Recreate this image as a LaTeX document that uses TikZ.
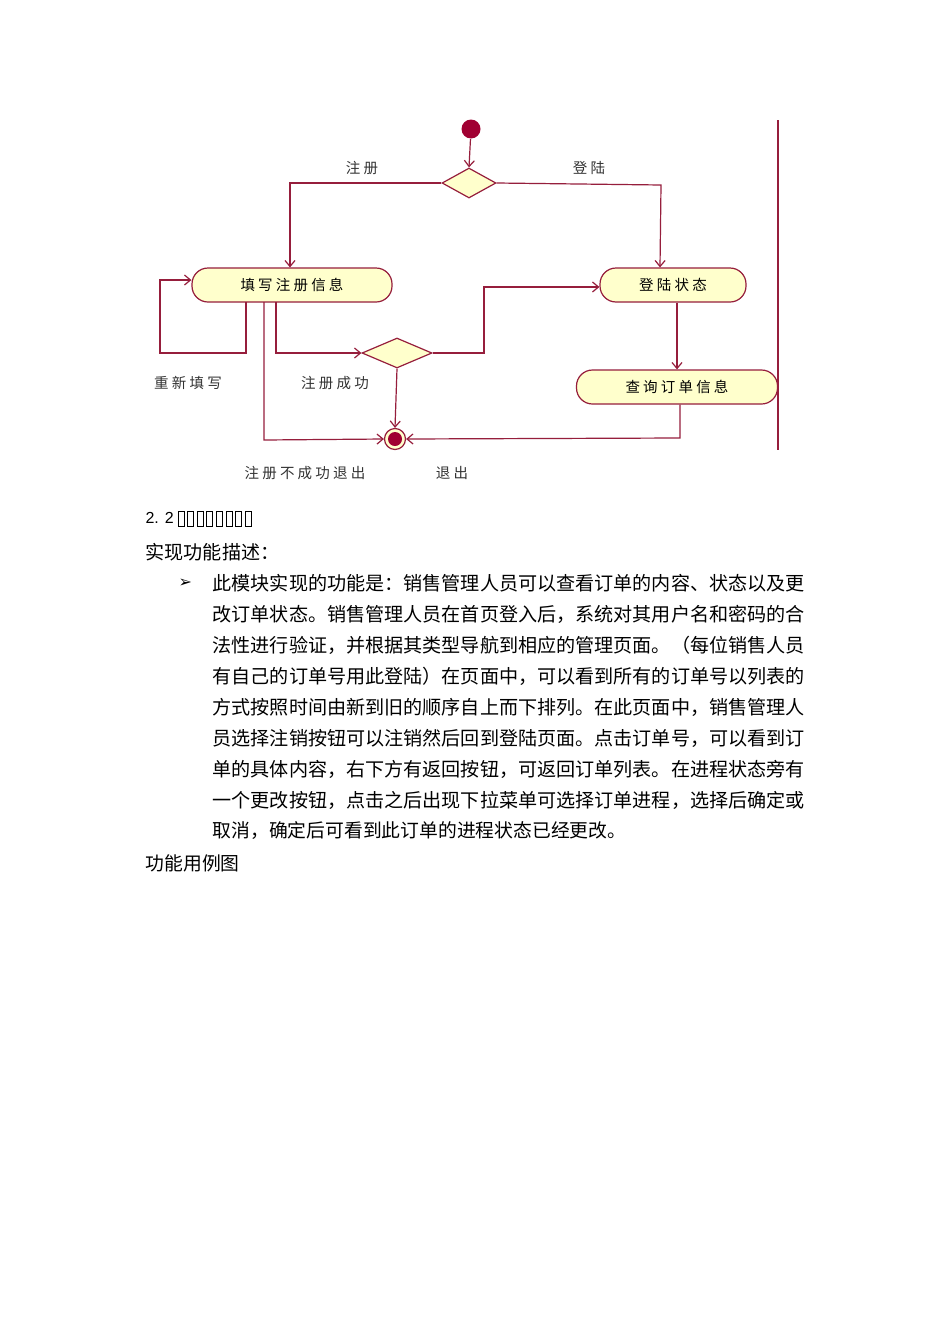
\documentclass[tikz,border=0pt]{standalone}
\usepackage{fontspec}
\setmainfont{Liberation Sans}
\newfontfamily\cjk{Noto Sans CJK SC}
\newfontfamily\cjkd[LetterSpace=22]{Noto Sans CJK SC}
\usetikzlibrary{shapes.geometric,arrows.meta}
\definecolor{ln}{RGB}{150,30,60}
\definecolor{fl}{RGB}{255,255,204}
\definecolor{dot}{RGB}{160,0,50}
\begin{document}
\begin{tikzpicture}[x=1pt,y=-1pt,line width=1.2pt,
  act/.style={draw=ln,fill=fl,rounded corners=16pt,minimum height=34pt,font=\cjkd\fontsize{14.5}{14}\selectfont,inner sep=0pt},
  dec/.style={draw=ln,fill=fl,diamond,inner sep=0pt},
  arr/.style={draw=ln,-{Straight Barb[length=6pt,width=10pt]}},
  lbl/.style={font=\cjkd\fontsize{14.5}{14}\selectfont,text=black!80},
  body/.style={anchor=west,font=\cjk\fontsize{19.1}{20}\selectfont,inner sep=0pt}]
\useasboundingbox (0,0) rectangle (950,1344);
\fill[white] (0,0) rectangle (950,1344);
\node[circle,fill=dot,minimum size=19pt,inner sep=0pt] (init) at (471,129) {};
\node[dec,minimum width=54pt,minimum height=30pt] (d1) at (469,183) {};
\node[act,minimum width=200pt] (fill) at (292,285) {填写注册信息};
\node[act,minimum width=146pt] (login) at (673,285) {登陆状态};
\node[act,minimum width=201pt] (query) at (677,387) {查询订单信息};
\node[dec,minimum width=70pt,minimum height=30pt] (d2) at (397,353) {};
\node[circle,draw=ln,fill=fl,minimum size=21pt,inner sep=0pt] (end) at (395,439) {};
\node[circle,fill=dot,minimum size=14pt,inner sep=0pt] at (end) {};
\draw[arr] (init) -- (d1.north);
\draw[arr] (d1.west) -- (290,183) -- (fill.north -| 290,0);
\draw[arr] (d1.east) -- (661,185) -- (login.north -| 660,0);
\coordinate (l1) at (246,302);
\draw[arr] (l1) -- (246,353) -- (160,353) -- (160,280) -- (fill.west |- 0,280);
\coordinate (l2) at (276,302);
\draw[arr] (l2) -- (276,353) -- (d2.west);
\draw[arr] (d2.east) -- (484,353) -- (484,287) -- (login.west |- 0,287);
\draw[arr] (d2.south) -- (end.north);
\coordinate (l3) at (264,302);
\draw[arr] (l3) -- (264,440) -- (end.west);
\draw[arr] (login.south -| 677,0) -- (query.north -| 677,0);
\draw[arr] (query.south -| 680,0) -- (680,438) -- (end.east);
\draw[ln] (778,120) -- (778,450);
\node[lbl] at (362,168) {注册};
\node[lbl] at (589,168) {登陆};
\node[lbl] at (188,383) {重新填写};
\node[lbl] at (335,383) {注册成功};
\node[lbl] at (305,473) {注册不成功退出};
\node[lbl] at (452,473) {退出};
\node[anchor=west,font=\fontsize{16}{16}\selectfont,inner sep=0pt] (h) at (145,518) {2. 2};
\foreach \i in {0,...,7} \draw[black,line width=1pt] (178+\i*9.6,511) rectangle (184+\i*9.6,526);
\node[body] at (145,552) {实现功能描述：};
\node[anchor=west,font=\fontsize{16}{16}\selectfont,inner sep=0pt] at (178,583) {\fontspec{DejaVu Sans}➢};
\node[body] at (212,583) {此模块实现的功能是：销售管理人员可以查看订单的内容、状态以及更};
\node[body] at (212,614) {改订单状态。销售管理人员在首页登入后，系统对其用户名和密码的合};
\node[body] at (212,645) {法性进行验证，并根据其类型导航到相应的管理页面。（每位销售人员};
\node[body] at (212,676) {有自己的订单号用此登陆）在页面中，可以看到所有的订单号以列表的};
\node[body] at (212,707) {方式按照时间由新到旧的顺序自上而下排列。在此页面中，销售管理人};
\node[body] at (212,738) {员选择注销按钮可以注销然后回到登陆页面。点击订单号，可以看到订};
\node[body] at (212,769) {单的具体内容，右下方有返回按钮，可返回订单列表。在进程状态旁有};
\node[body] at (212,800) {一个更改按钮，点击之后出现下拉菜单可选择订单进程，选择后确定或};
\node[body,font=\cjk\fontsize{18.8}{20}\selectfont] at (212,831) {取消，确定后可看到此订单的进程状态已经更改。};
\node[body,font=\cjk\fontsize{18.8}{20}\selectfont] at (145,863) {功能用例图};
\end{tikzpicture}
\end{document}
